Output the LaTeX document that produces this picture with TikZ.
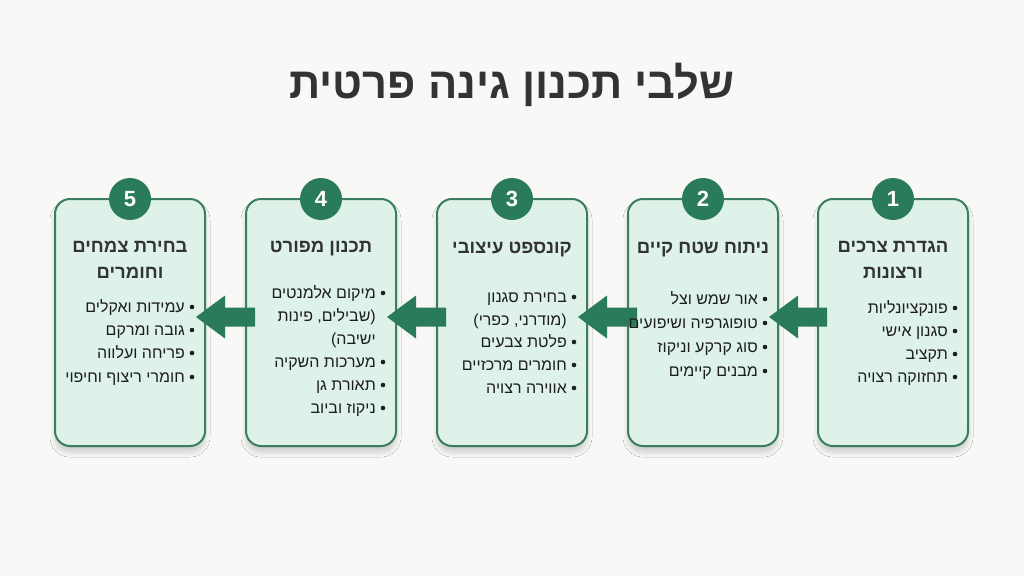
\documentclass[tikz,border=0pt]{standalone}
\usepackage{fontspec}
\setmainfont{Liberation Sans}
\newfontfamily\heb[Script=Hebrew]{Liberation Sans}
\TeXXeTstate=1
\usetikzlibrary{calc,shadows.blur}
\definecolor{bgc}{HTML}{F8F8F6}
\definecolor{cardfill}{HTML}{DEF2E9}
\definecolor{cardline}{HTML}{3A7E60}
\definecolor{dgreen}{HTML}{2A7B5B}
\definecolor{titlec}{HTML}{333333}
\definecolor{textc}{HTML}{1E1E1E}
\tikzset{
  card/.style={draw=cardline, line width=2pt, fill=cardfill, rounded corners=15pt,
    minimum width=150pt, minimum height=247pt, inner sep=0pt, outer sep=0pt,
    blur shadow={shadow xshift=0pt, shadow yshift=-6pt, shadow blur radius=5pt, shadow blur steps=10, shadow opacity=18}},
  num/.style={circle, fill=dgreen, minimum size=42pt, inner sep=0pt, text=white,
    font=\bfseries\fontsize{22}{22}\selectfont},
  maintitle/.style={font=\heb\bfseries\fontsize{43.5}{43.5}\selectfont, text=titlec, inner sep=0pt,
    text height=31pt, text depth=0pt},
  ctitle/.style={font=\heb\bfseries\fontsize{18.5}{18.5}\selectfont, text=titlec, inner sep=0pt,
    text height=13.5pt, text depth=0pt},
  btxt/.style={font=\heb\fontsize{16}{16}\selectfont, text=textc, inner sep=0pt,
    text height=11pt, text depth=0pt, anchor=east},
  bdot/.style={circle, fill=textc, minimum size=4.6pt, inner sep=0pt},
  arrowfill/.style={fill=dgreen}
}
% #1 card, #2 name, #3 y offset from card top, #4 text
\newcommand\bitem[4]{%
  \node[bdot] (#2d) at ($(#1.north east)+(-13,#3)$) {};
  \node[btxt] (#2) at ($(#1.north east)+(-20,#3)$) {#4};}
\newcommand\citem[4]{%
  \node[btxt] (#2) at ($(#1.north east)+(-20,#3)$) {#4};}
% block arrow from card #1 (right) to card #2 (left)
\newcommand\blockarrow[2]{%
  \fill[arrowfill] let \p1=($(#2.east)+(-9pt,5.5pt)$), \p2=($(#1.west)+(9pt,5.5pt)$) in
    (\x1,\y1) -- (\x1+29pt,\y1+21.5pt) -- (\x1+29pt,\y1+9.5pt) -- (\x2,\y1+9.5pt)
    -- (\x2,\y1-9.5pt) -- (\x1+29pt,\y1-9.5pt) -- (\x1+29pt,\y1-21.5pt) -- cycle;}
\begin{document}
\begin{tikzpicture}[x=1pt,y=-1pt]
\fill[bgc] (0,0) rectangle (1024,576);
\useasboundingbox (0,0) rectangle (1024,576);

\node[maintitle] (title) at (512,83) {\beginR שלבי תכנון גינה פרטית\endR};

\node[card] (c1) at (893,322.5) {};
\node[card] (c2) at (703,322.5) {};
\node[card] (c3) at (512,322.5) {};
\node[card] (c4) at (321,322.5) {};
\node[card] (c5) at (130,322.5) {};

\blockarrow{c1}{c2}
\blockarrow{c2}{c3}
\blockarrow{c3}{c4}
\blockarrow{c4}{c5}

\node[num] (n1) at (c1.north) {1};
\node[num] (n2) at (c2.north) {2};
\node[num] (n3) at (c3.north) {3};
\node[num] (n4) at (c4.north) {4};
\node[num] (n5) at (c5.north) {5};

% card 1
\node[ctitle] (t1a) at ($(c1.north)+(0,47)$) {\beginR הגדרת צרכים\endR};
\node[ctitle] (t1b) at ($(c1.north)+(0,73)$) {\beginR ורצונות\endR};
\bitem{c1}{b11}{109}{\beginR פונקציונליות\endR}
\bitem{c1}{b12}{132}{\beginR סגנון אישי\endR}
\bitem{c1}{b13}{155}{\beginR תקציב\endR}
\bitem{c1}{b14}{178}{\beginR תחזוקה רצויה\endR}

% card 2
\node[ctitle] (t2a) at ($(c2.north)+(0,48)$) {\beginR ניתוח שטח קיים\endR};
\bitem{c2}{b21}{100}{\beginR אור שמש וצל\endR}
\bitem{c2}{b22}{124}{\beginR טופוגרפיה ושיפועים\endR}
\bitem{c2}{b23}{148}{\beginR סוג קרקע וניקוז\endR}
\bitem{c2}{b24}{172}{\beginR מבנים קיימים\endR}

% card 3
\node[ctitle] (t3a) at ($(c3.north)+(0,48)$) {\beginR קונספט עיצובי\endR};
\bitem{c3}{b31}{98}{\beginR בחירת סגנון\endR}
\citem{c3}{b32}{121}{\beginR (מודרני, כפרי)\endR}
\bitem{c3}{b33}{143}{\beginR פלטת צבעים\endR}
\bitem{c3}{b34}{166}{\beginR חומרים מרכזיים\endR}
\bitem{c3}{b35}{189}{\beginR אווירה רצויה\endR}

% card 4
\node[ctitle] (t4a) at ($(c4.north)+(0,47)$) {\beginR תכנון מפורט\endR};
\bitem{c4}{b41}{94}{\beginR מיקום אלמנטים\endR}
\citem{c4}{b42}{117}{\beginR (שבילים, פינות\endR}
\citem{c4}{b43}{140}{\beginR ישיבה)\endR}
\bitem{c4}{b44}{163}{\beginR מערכות השקיה\endR}
\bitem{c4}{b45}{186}{\beginR תאורת גן\endR}
\bitem{c4}{b46}{209}{\beginR ניקוז וביוב\endR}

% card 5
\node[ctitle] (t5a) at ($(c5.north)+(0,47)$) {\beginR בחירת צמחים\endR};
\node[ctitle] (t5b) at ($(c5.north)+(0,73)$) {\beginR וחומרים\endR};
\bitem{c5}{b51}{108}{\beginR עמידות ואקלים\endR}
\bitem{c5}{b52}{131}{\beginR גובה ומרקם\endR}
\bitem{c5}{b53}{154}{\beginR פריחה ועלווה\endR}
\bitem{c5}{b54}{178}{\beginR חומרי ריצוף וחיפוי\endR}
\end{tikzpicture}
\end{document}
